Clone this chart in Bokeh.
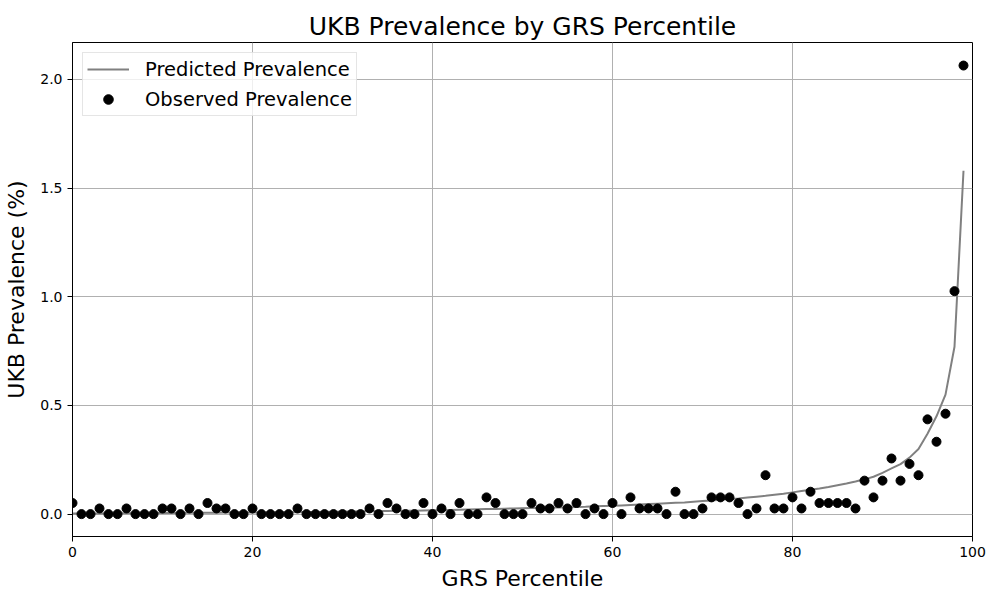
from bokeh.plotting import figure
from bokeh.models import Range1d, FixedTicker, Legend, LegendItem, ColumnDataSource
from bokeh.embed import file_html
from bokeh.resources import INLINE

percentiles = list(range(100))

observed = [
    0.051, 0.0, 0.0, 0.026, 0.0, 0.0, 0.026, 0.0, 0.0, 0.0,
    0.026, 0.026, 0.0, 0.026, 0.0, 0.051, 0.026, 0.026, 0.0, 0.0,
    0.026, 0.0, 0.0, 0.0, 0.0, 0.026, 0.0, 0.0, 0.0, 0.0,
    0.0, 0.0, 0.0, 0.026, 0.0, 0.051, 0.026, 0.0, 0.0, 0.051,
    0.0, 0.026, 0.0, 0.051, 0.0, 0.0, 0.077, 0.051, 0.0, 0.0,
    0.0, 0.051, 0.026, 0.026, 0.051, 0.026, 0.051, 0.0, 0.026, 0.0,
    0.051, 0.0, 0.077, 0.026, 0.026, 0.026, 0.0, 0.103, 0.0, 0.0,
    0.026, 0.077, 0.077, 0.077, 0.051, 0.0, 0.026, 0.179, 0.026, 0.026,
    0.077, 0.026, 0.103, 0.051, 0.051, 0.051, 0.051, 0.026, 0.154, 0.077,
    0.154, 0.256, 0.154, 0.231, 0.179, 0.436, 0.333, 0.462, 1.026, 2.064,
]

predicted = [
    0.003, 0.003, 0.003, 0.003, 0.004, 0.004, 0.004, 0.004, 0.004, 0.005,
    0.005, 0.005, 0.005, 0.006, 0.006, 0.006, 0.006, 0.007, 0.007, 0.007,
    0.008, 0.008, 0.008, 0.009, 0.009, 0.009, 0.010, 0.010, 0.011, 0.011,
    0.012, 0.012, 0.013, 0.013, 0.014, 0.014, 0.015, 0.015, 0.016, 0.017,
    0.018, 0.018, 0.019, 0.020, 0.021, 0.022, 0.023, 0.024, 0.025, 0.026,
    0.027, 0.028, 0.029, 0.030, 0.031, 0.032, 0.033, 0.034, 0.036, 0.037,
    0.038, 0.040, 0.042, 0.044, 0.046, 0.048, 0.050, 0.052, 0.054, 0.057,
    0.060, 0.063, 0.066, 0.069, 0.072, 0.076, 0.080, 0.084, 0.089, 0.094,
    0.100, 0.106, 0.112, 0.118, 0.125, 0.133, 0.141, 0.150, 0.160, 0.172,
    0.190, 0.210, 0.230, 0.260, 0.300, 0.370, 0.450, 0.550, 0.770, 1.580,
]

x_ticks = [0, 20, 40, 60, 80, 100]
y_ticks = [0.0, 0.5, 1.0, 1.5, 2.0]

FONT = "DejaVu Sans"

p = figure(width=1000, height=600, output_backend="svg", toolbar_location=None,
           x_range=Range1d(0, 100), y_range=Range1d(-0.103, 2.17),
           min_border_left=72, min_border_right=28, min_border_top=42, min_border_bottom=64)

p.title.text = "UKB Prevalence by GRS Percentile"
p.title.text_font = FONT
p.title.text_font_size = "25px"
p.title.text_font_style = "normal"
p.title.text_color = "black"
p.title.align = "center"
p.title.offset = 0
p.title.standoff = 4

src = ColumnDataSource(dict(x=percentiles, obs=observed, pred=predicted))

line_r = p.line("x", "pred", source=src, line_color="#808080", line_width=2)
pts_r = p.scatter("x", "obs", source=src, size=9, fill_color="black", line_color="black")

p.outline_line_color = "black"
p.outline_line_width = 1

for ax in (p.xaxis[0], p.yaxis[0]):
    ax.major_label_text_font = FONT
    ax.major_label_text_font_size = "14px"
    ax.major_label_text_color = "black"
    ax.axis_label_text_font = FONT
    ax.axis_label_text_font_size = "22px"
    ax.axis_label_text_font_style = "normal"
    ax.axis_label_text_color = "black"
    ax.minor_tick_line_color = None
    ax.major_tick_out = 5
    ax.major_tick_in = 0
    ax.axis_line_color = "black"
    ax.major_tick_line_color = "black"

p.xaxis[0].ticker = FixedTicker(ticks=x_ticks)
p.yaxis[0].ticker = FixedTicker(ticks=y_ticks)
p.xaxis[0].major_label_overrides = {t: str(t) for t in x_ticks}
p.yaxis[0].major_label_overrides = {t: f"{t:.1f}" for t in y_ticks}
p.xaxis[0].axis_label = "GRS Percentile"
p.yaxis[0].axis_label = "UKB Prevalence (%)"
p.xaxis[0].axis_label_standoff = 6
p.yaxis[0].axis_label_standoff = 8

p.xgrid.grid_line_color = "#b0b0b0"
p.ygrid.grid_line_color = "#b0b0b0"
p.xgrid.grid_line_width = 1
p.ygrid.grid_line_width = 1

legend = Legend(items=[LegendItem(label="Predicted Prevalence", renderers=[line_r]),
                       LegendItem(label="Observed Prevalence", renderers=[pts_r])],
                location="top_left")
legend.label_text_font = FONT
legend.label_text_font_size = "19.5px"
legend.label_text_color = "black"
legend.glyph_width = 42
legend.glyph_height = 24
legend.label_height = 24
legend.label_standoff = 16
legend.spacing = 6
legend.padding = 4
legend.margin = 10
legend.border_line_color = "#cccccc"
legend.border_line_width = 1
legend.background_fill_alpha = 0.8
p.add_layout(legend)

open("out.html", "w").write(file_html(p, INLINE))
